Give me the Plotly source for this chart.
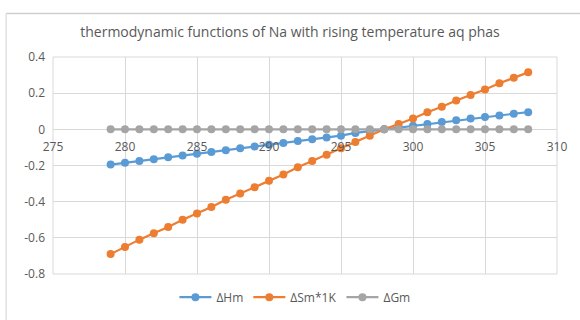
import plotly.graph_objects as go

temps = list(range(279, 309))
dH = [-0.195, -0.185, -0.175, -0.165, -0.155, -0.145, -0.135, -0.125, -0.115, -0.105,
      -0.095, -0.085, -0.075, -0.065, -0.055, -0.045, -0.035, -0.02, -0.01, 0.0,
      0.01, 0.02, 0.03, 0.04, 0.05, 0.06, 0.068, 0.077, 0.086, 0.095]
dS = [-0.69, -0.65, -0.61, -0.575, -0.54, -0.50, -0.465, -0.43, -0.39, -0.355,
      -0.32, -0.284, -0.25, -0.21, -0.175, -0.14, -0.105, -0.07, -0.035, 0.0,
      0.03, 0.06, 0.095, 0.125, 0.16, 0.19, 0.22, 0.255, 0.285, 0.315]
dG = [0.0] * 30
y_ticks = [0.4, 0.2, 0, -0.2, -0.4, -0.6, -0.8]
y_labels = ['0.4', '0.2', '0', '-0.2', '-0.4', '-0.6', '-0.8']

grey_txt = '#595959'
grid = '#d9d9d9'

fig = go.Figure()
for name, vals, col in [('ΔHm', dH, '#5B9BD5'), ('ΔSm*1K', dS, '#ED7D31'), ('ΔGm', dG, '#A5A5A5')]:
    fig.add_trace(go.Scatter(x=temps, y=vals, mode='lines+markers', name=name,
                             line=dict(color=col, width=2.2),
                             marker=dict(color=col, size=8)))

fig.update_layout(
    width=580, height=320,
    margin=dict(l=53, r=23, t=57, b=46, autoexpand=False),
    paper_bgcolor='white', plot_bgcolor='white',
    font=dict(family='Open Sans, Noto Sans, sans-serif', color=grey_txt, size=11),
    title=dict(text='thermodynamic functions of Na with rising temperature aq phas',
               x=0.5, xanchor='center', y=0.9, yanchor='middle',
               font=dict(size=14, color=grey_txt)),
    legend=dict(orientation='h', x=0.48, xanchor='center', y=-0.04, yanchor='top',
                font=dict(size=12, color=grey_txt), itemwidth=32),
    showlegend=True,
)
fig.update_xaxes(range=[275, 310], dtick=5, showgrid=True, gridcolor=grid, gridwidth=1,
                 zeroline=False, anchor='free', position=2/3, showline=False,
                 ticks='', ticklabelstandoff=9, automargin=False,
                 tickfont=dict(size=12, color=grey_txt))
fig.update_yaxes(range=[-0.8, 0.4], tickvals=y_ticks, ticktext=y_labels,
                 showgrid=True, gridcolor=grid, gridwidth=1,
                 zeroline=True, zerolinecolor=grid, zerolinewidth=1,
                 ticks='', ticklabelstandoff=7, automargin=False,
                 tickfont=dict(size=12, color=grey_txt))
fig.add_shape(type='rect', xref='paper', yref='paper', x0=0, x1=1, y0=0, y1=1,
              line=dict(color=grid, width=1), layer='below')
# outer chart border (top and left edges are visible in the reference)
fig.add_shape(type='line', xref='paper', yref='paper', x0=-0.093, x1=1.1, y0=1.2, y1=1.2,
              line=dict(color='#cfcfcf', width=1.5), layer='above')
fig.add_shape(type='line', xref='paper', yref='paper', x0=-0.093, x1=-0.093, y0=-0.3, y1=1.2,
              line=dict(color=grid, width=1.2), layer='above')

fig.write_html("out.html", config={'displayModeBar': False},
               post_script="document.body.style.margin='0';")
